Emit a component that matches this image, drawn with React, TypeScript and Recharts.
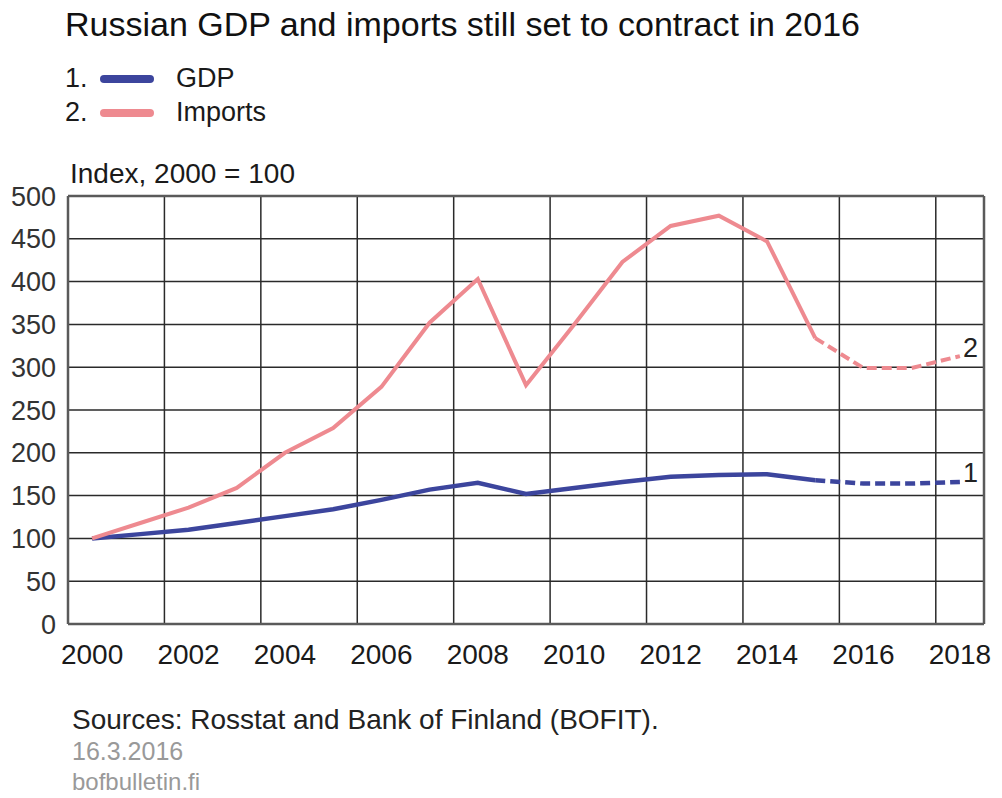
import { LineChart, Line, XAxis, YAxis, CartesianGrid, ReferenceLine } from "recharts";

const years = [2000, 2001, 2002, 2003, 2004, 2005, 2006, 2007, 2008, 2009, 2010, 2011, 2012, 2013, 2014, 2015, 2016, 2017, 2018];
const gdp = [100, 105, 110, 118, 126, 134, 145, 157, 165, 152, 159, 166, 172, 174, 175, 168, 164, 164, 166];
const imports = [100, 118, 136, 159, 200, 229, 277, 352, 403, 279, 350, 423, 465, 477, 447, 334, 299, 299, 313];
const forecastFrom = 2015;

const yTicks = [0, 50, 100, 150, 200, 250, 300, 350, 400, 450, 500];
const xLabelYears = [2000, 2002, 2004, 2006, 2008, 2010, 2012, 2014, 2016, 2018];
const gridYears = [2002, 2004, 2006, 2008, 2010, 2012, 2014, 2016, 2018];

const BLUE = "#3c459d";
const PINK = "#ee8a90";
const GRID = "#2a2a2a";
const BORDER = "#5a5a5a";

// points sit mid-year, grid lines on year boundaries
const data = years.map((y, i) => ({
  t: y + 0.5,
  gdp: y <= forecastFrom ? gdp[i] : null,
  gdpF: y >= forecastFrom ? gdp[i] : null,
  imports: y <= forecastFrom ? imports[i] : null,
  importsF: y >= forecastFrom ? imports[i] : null,
}));

const endLabel = (text: string, dy: number) => (props: any) => {
  if (props.index !== data.length - 1) return <g />;
  return (
    <text x={props.x + 3} y={props.y + dy} fontSize={27} fill="#222" textAnchor="start" dominantBaseline="middle">
      {text}
    </text>
  );
};

function LegendRow({ num, color, label, top }: { num: string; color: string; label: string; top: number }) {
  return (
    <div style={{ position: "absolute", left: 65, top, height: 30, display: "flex", alignItems: "center" }}>
      <span style={{ width: 35 }}>{num}</span>
      <span style={{ width: 54, height: 8, borderRadius: 4, background: color, marginRight: 22 }} />
      <span>{label}</span>
    </div>
  );
}

export default function App() {
  return (
    <div
      style={{
        position: "absolute",
        left: 0,
        top: 0,
        width: 1002,
        height: 798,
        background: "#fff",
        fontFamily: "'Liberation Sans', Arial, sans-serif",
        color: "#1a1a1a",
        fontSize: 27,
        lineHeight: 1.15,
      }}
    >
      <div style={{ position: "absolute", left: 65, top: 5, fontSize: 34, color: "#111", whiteSpace: "nowrap" }}>
        Russian GDP and imports still set to contract in 2016
      </div>
      <LegendRow num="1." color={BLUE} label="GDP" top={64} />
      <LegendRow num="2." color={PINK} label="Imports" top={98} />
      <div style={{ position: "absolute", left: 70, top: 158, fontSize: 28 }}>Index, 2000 = 100</div>

      <LineChart
        width={1002}
        height={798}
        data={data}
        margin={{ top: 196, right: 18, bottom: 134, left: 8 }}
        style={{ position: "absolute", left: 0, top: 0 }}
      >
        <CartesianGrid vertical={false} stroke={GRID} strokeWidth={1.5} />
        {gridYears.map((g) => (
          <ReferenceLine key={g} x={g} stroke={GRID} strokeWidth={1.5} />
        ))}
        <ReferenceLine x={2000} stroke={BORDER} strokeWidth={2.5} />
        <ReferenceLine x={2019} stroke={BORDER} strokeWidth={2.5} />
        <ReferenceLine y={0} stroke={BORDER} strokeWidth={2.5} />
        <ReferenceLine y={500} stroke={BORDER} strokeWidth={2.5} />
        <XAxis
          dataKey="t"
          type="number"
          domain={[2000, 2019]}
          ticks={xLabelYears.map((y) => y + 0.5)}
          tickFormatter={(v) => String(Math.floor(v))}
          height={40}
          axisLine={false}
          tickLine={false}
          tickSize={0}
          tickMargin={20}
          tick={{ fontSize: 28, fill: "#1a1a1a" }}
          interval={0}
        />
        <YAxis
          type="number"
          domain={[0, 500]}
          ticks={yTicks}
          width={60}
          axisLine={false}
          tickLine={false}
          tickSize={0}
          tickMargin={12}
          tick={{ fontSize: 27, fill: "#333" }}
          interval={0}
        />
        <Line dataKey="gdp" stroke={BLUE} strokeWidth={4.5} dot={false} isAnimationActive={false} />
        <Line
          dataKey="gdpF"
          stroke={BLUE}
          strokeWidth={4.5}
          strokeDasharray="10 5"
          dot={false}
          isAnimationActive={false}
          label={endLabel("1", -7)}
        />
        <Line dataKey="imports" stroke={PINK} strokeWidth={4} dot={false} isAnimationActive={false} />
        <Line
          dataKey="importsF"
          stroke={PINK}
          strokeWidth={4}
          strokeDasharray="10 5"
          dot={false}
          isAnimationActive={false}
          label={endLabel("2", -6)}
        />
      </LineChart>

      <div style={{ position: "absolute", left: 72, top: 704, fontSize: 28, color: "#222", whiteSpace: "nowrap" }}>
        Sources: Rosstat and Bank of Finland (BOFIT).
      </div>
      <div style={{ position: "absolute", left: 72, top: 737, fontSize: 25, color: "#999" }}>16.3.2016</div>
      <div style={{ position: "absolute", left: 72, top: 768, fontSize: 24, color: "#999" }}>bofbulletin.fi</div>
    </div>
  );
}
